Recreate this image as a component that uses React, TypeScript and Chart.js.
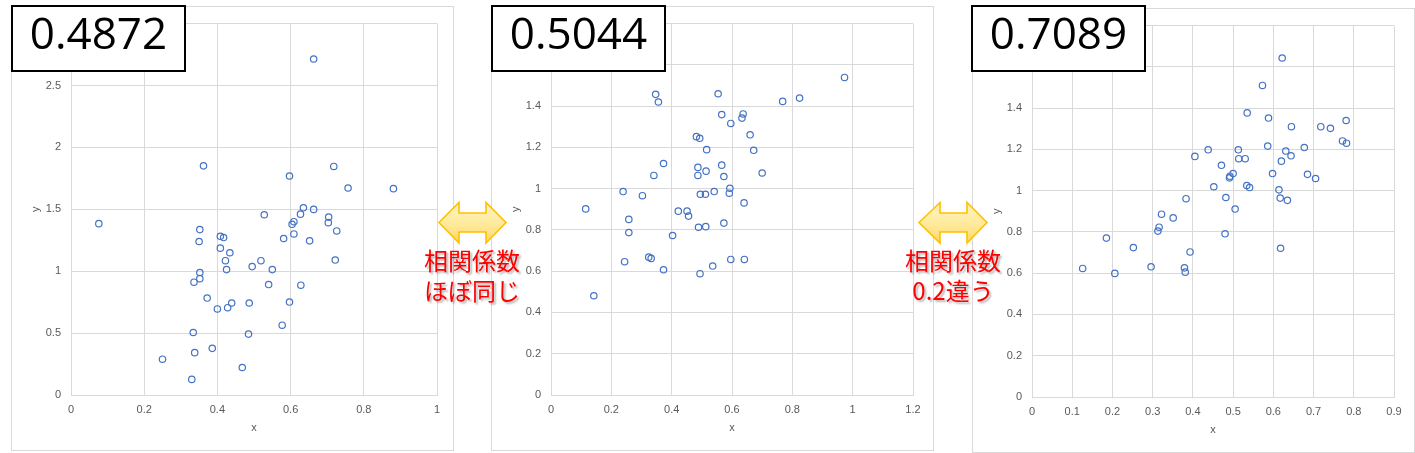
import React, { useEffect, useRef } from "react";
import { Chart, registerables } from "chart.js";

Chart.register(...registerables);

// ---------- data ----------
const xs1 = [0.663, 0.362, 0.718, 0.597, 0.757, 0.881, 0.635, 0.663, 0.528, 0.627, 0.704, 0.609, 0.604, 0.703, 0.076, 0.726, 0.352, 0.609, 0.408, 0.417, 0.581, 0.35, 0.652, 0.408, 0.434, 0.422, 0.519, 0.722, 0.495, 0.425, 0.55, 0.352, 0.352, 0.336, 0.54, 0.628, 0.372, 0.439, 0.487, 0.597, 0.4, 0.428, 0.577, 0.334, 0.485, 0.386, 0.338, 0.25, 0.468, 0.33];
const ys1 = [2.714, 1.851, 1.846, 1.769, 1.672, 1.667, 1.512, 1.499, 1.456, 1.461, 1.437, 1.4, 1.379, 1.392, 1.384, 1.325, 1.336, 1.301, 1.282, 1.272, 1.264, 1.24, 1.245, 1.186, 1.149, 1.085, 1.085, 1.09, 1.037, 1.013, 1.013, 0.989, 0.94, 0.911, 0.892, 0.887, 0.783, 0.743, 0.743, 0.751, 0.695, 0.705, 0.564, 0.505, 0.492, 0.377, 0.342, 0.289, 0.222, 0.126];

const xs2 = [0.973, 0.347, 0.554, 0.356, 0.768, 0.824, 0.566, 0.637, 0.633, 0.596, 0.66, 0.482, 0.493, 0.516, 0.672, 0.373, 0.566, 0.487, 0.514, 0.7, 0.341, 0.487, 0.573, 0.593, 0.239, 0.541, 0.303, 0.495, 0.512, 0.591, 0.64, 0.115, 0.422, 0.451, 0.456, 0.258, 0.573, 0.489, 0.513, 0.258, 0.403, 0.324, 0.332, 0.244, 0.596, 0.641, 0.536, 0.373, 0.494, 0.142];
const ys2 = [1.539, 1.457, 1.46, 1.42, 1.423, 1.439, 1.359, 1.362, 1.342, 1.316, 1.261, 1.252, 1.244, 1.189, 1.186, 1.122, 1.114, 1.103, 1.085, 1.076, 1.064, 1.064, 1.059, 1.002, 0.986, 0.986, 0.966, 0.973, 0.973, 0.978, 0.931, 0.902, 0.891, 0.891, 0.867, 0.851, 0.833, 0.813, 0.816, 0.787, 0.773, 0.668, 0.662, 0.646, 0.657, 0.657, 0.625, 0.607, 0.588, 0.481];

const xs3 = [0.622, 0.573, 0.535, 0.588, 0.781, 0.645, 0.718, 0.742, 0.772, 0.782, 0.586, 0.677, 0.438, 0.513, 0.631, 0.644, 0.405, 0.514, 0.53, 0.62, 0.471, 0.598, 0.5, 0.685, 0.492, 0.491, 0.705, 0.534, 0.541, 0.452, 0.614, 0.617, 0.482, 0.635, 0.383, 0.505, 0.322, 0.351, 0.316, 0.313, 0.48, 0.185, 0.618, 0.252, 0.393, 0.126, 0.296, 0.379, 0.381, 0.206];
const ys3 = [1.643, 1.51, 1.377, 1.352, 1.34, 1.31, 1.31, 1.302, 1.241, 1.23, 1.216, 1.209, 1.198, 1.198, 1.192, 1.169, 1.166, 1.155, 1.155, 1.143, 1.123, 1.083, 1.083, 1.079, 1.07, 1.062, 1.059, 1.025, 1.015, 1.019, 1.004, 0.964, 0.967, 0.953, 0.961, 0.911, 0.886, 0.868, 0.823, 0.804, 0.791, 0.77, 0.721, 0.724, 0.703, 0.623, 0.631, 0.626, 0.605, 0.599];

const xTicks1 = [0, 0.2, 0.4, 0.6, 0.8, 1];
const yTicks1 = [0, 0.5, 1, 1.5, 2, 2.5, 3];
const xTicks2 = [0, 0.2, 0.4, 0.6, 0.8, 1, 1.2];
const yTicks2 = [0, 0.2, 0.4, 0.6, 0.8, 1, 1.2, 1.4, 1.6, 1.8];
const xTicks3 = [0, 0.1, 0.2, 0.3, 0.4, 0.5, 0.6, 0.7, 0.8, 0.9];
const yTicks3 = [0, 0.2, 0.4, 0.6, 0.8, 1, 1.2, 1.4, 1.6, 1.8];

const corrLabels = ["0.4872", "0.5044", "0.7089"];
const noteLines1 = ["相関係数", "ほぼ同じ"];
const noteLines2 = ["相関係数", "0.2違う"];

// ---------- styles ----------
const GRID = "#D9D9D9";
const TEXT = "#595959";
const TICK_FONT = { family: '"Liberation Sans", Arial, sans-serif', size: 11 };

const fmt = (v: any) => String(Math.round(Number(v) * 10) / 10);

type PanelProps = {
  xs: number[];
  ys: number[];
  xTicks: number[];
  yTicks: number[];
  left: number;
  top: number;
  padTop: number;
  padRight: number;
  label: string;
  labelLeft: number;
  labelTop: number;
};

function Panel(p: PanelProps) {
  const ref = useRef<HTMLCanvasElement | null>(null);
  const W = 441;
  const H = 443;
  useEffect(() => {
    const data = p.xs.map((x, i) => ({ x, y: p.ys[i] }));
    const chart = new Chart(ref.current as HTMLCanvasElement, {
      type: "scatter",
      data: {
        datasets: [
          {
            data,
            pointRadius: 3.2,
            pointHoverRadius: 3.2,
            pointBorderWidth: 1.2,
            borderColor: "#4472C4",
            backgroundColor: "rgba(255,255,255,0)",
          },
        ],
      },
      options: {
        responsive: false,
        maintainAspectRatio: false,
        animation: false,
        layout: { padding: { top: p.padTop, right: p.padRight, left: 0, bottom: 0 } },
        plugins: { legend: { display: false }, tooltip: { enabled: false } },
        scales: {
          x: {
            type: "linear",
            min: p.xTicks[0],
            max: p.xTicks[p.xTicks.length - 1],
            afterBuildTicks: (s: any) => {
              s.ticks = p.xTicks.map((v) => ({ value: v }));
            },
            afterFit: (s: any) => {
              s.height = 55;
            },
            grid: { color: GRID, drawTicks: false, lineWidth: 1 },
            border: { color: GRID },
            ticks: { padding: 8, color: TEXT, font: TICK_FONT, callback: fmt, maxRotation: 0, autoSkip: false },
            title: { display: true, text: "x", color: TEXT, font: TICK_FONT, padding: { top: 0, bottom: 15 } },
          },
          y: {
            type: "linear",
            min: p.yTicks[0],
            max: p.yTicks[p.yTicks.length - 1],
            afterBuildTicks: (s: any) => {
              s.ticks = p.yTicks.map((v) => ({ value: v }));
            },
            afterFit: (s: any) => {
              s.width = 59;
            },
            grid: { color: GRID, drawTicks: false, lineWidth: 1 },
            border: { color: GRID },
            ticks: { padding: 10, color: TEXT, font: TICK_FONT, callback: fmt, autoSkip: false },
            title: { display: true, text: "y", color: TEXT, font: TICK_FONT, padding: { top: 17, bottom: 0 } },
          },
        },
      },
    });
    return () => chart.destroy();
  }, []);
  return (
    <>
      <div
        style={{
          position: "absolute",
          left: p.left - 1,
          top: p.top - 1,
          width: W + 2,
          height: H + 2,
          boxSizing: "border-box",
          border: `1px solid ${GRID}`,
          background: "#fff",
        }}
      />
      <canvas
        ref={ref}
        width={W}
        height={H}
        style={{ position: "absolute", left: p.left, top: p.top, width: W, height: H }}
      />
      <div
        style={{
          position: "absolute",
          left: p.labelLeft,
          top: p.labelTop,
          width: 175,
          height: 67,
          boxSizing: "border-box",
          border: "2px solid #000",
          background: "#fff",
        }}
      >
        <div
          style={{
            position: "absolute",
            left: 0,
            right: 0,
            top: 3,
            textAlign: "center",
            fontFamily: '"Open Sans", "Noto Sans", sans-serif',
            fontSize: 44,
            lineHeight: "44px",
            color: "#000",
          }}
        >
          {p.label}
        </div>
      </div>
    </>
  );
}

function arrowPath(x0: number, b0: number, b1: number, x1: number) {
  const cy = 222.5;
  const t = 202.5;
  const st = 213;
  const sb = 232;
  const b = 243;
  return `M${x0},${cy} L${b0},${t} L${b0},${st} L${b1},${st} L${b1},${t} L${x1},${cy} L${b1},${b} L${b1},${sb} L${b0},${sb} L${b0},${b} Z`;
}

function Note({ lines, cx }: { lines: string[]; cx: number }) {
  return (
    <div
      style={{
        position: "absolute",
        left: cx - 70,
        top: 245,
        width: 140,
        textAlign: "center",
        fontFamily: '"Noto Sans CJK JP", "Noto Sans", sans-serif',
        fontSize: 24,
        lineHeight: "30px",
        color: "#FF0000",
        textShadow: "2px 2px 2px rgba(0,0,0,0.28)",
        whiteSpace: "nowrap",
      }}
    >
      {lines.map((l, i) => (
        <div key={i}>{l}</div>
      ))}
    </div>
  );
}

export default function App() {
  return (
    <div
      style={{
        position: "absolute",
        left: 0,
        top: 0,
        width: 1415,
        height: 453,
        overflow: "hidden",
        background: "#fff",
      }}
    >
      <Panel xs={xs1} ys={ys1} xTicks={xTicks1} yTicks={yTicks1} left={12} top={7} padTop={14} padRight={16} label={corrLabels[0]} labelLeft={11} labelTop={5} />
      <Panel xs={xs2} ys={ys2} xTicks={xTicks2} yTicks={yTicks2} left={492} top={7} padTop={14} padRight={20} label={corrLabels[1]} labelLeft={491} labelTop={5} />
      <Panel xs={xs3} ys={ys3} xTicks={xTicks3} yTicks={yTicks3} left={973} top={9} padTop={13} padRight={20} label={corrLabels[2]} labelLeft={971} labelTop={5} />
      <svg
        width={1415}
        height={453}
        style={{ position: "absolute", left: 0, top: 0, pointerEvents: "none" }}
      >
        <defs>
          <linearGradient id="arrowFill" x1="0" y1="0" x2="0" y2="1">
            <stop offset="0" stopColor="#FFF5C4" />
            <stop offset="0.55" stopColor="#FFE99A" />
            <stop offset="1" stopColor="#FFD966" />
          </linearGradient>
        </defs>
        <path d={arrowPath(439, 459, 486, 506)} fill="url(#arrowFill)" stroke="#FFC000" strokeWidth={1.6} strokeLinejoin="miter" />
        <path d={arrowPath(919, 940, 967, 987)} fill="url(#arrowFill)" stroke="#FFC000" strokeWidth={1.6} strokeLinejoin="miter" />
      </svg>
      <Note lines={noteLines1} cx={472} />
      <Note lines={noteLines2} cx={953} />
    </div>
  );
}
